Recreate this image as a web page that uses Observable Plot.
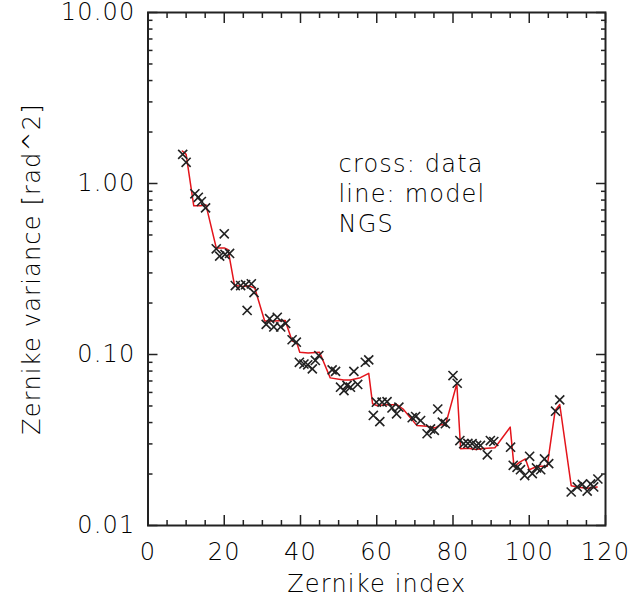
<!DOCTYPE html>
<html>
<head>
<meta charset="utf-8">
<script src="https://cdn.jsdelivr.net/npm/d3@7"></script>
<script src="https://cdn.jsdelivr.net/npm/@observablehq/plot@0.6"></script>
<style>
  html, body { margin: 0; padding: 0; background: #fff; }
</style>
</head>
<body>
<div id="chart"></div>
<script>
// Data crosses: Zernike index and measured variance [rad^2]
const dataIndex = [9.1, 10.0, 12.3, 13.2, 14.0, 15.1, 17.9, 18.8, 20.0, 20.2, 21.4,
  22.9, 24.3, 25.6, 26.0, 27.1, 27.8, 31.0, 31.9, 33.0, 33.9, 34.8, 36.1,
  37.8, 38.9, 39.7, 40.9, 41.9, 43.1, 43.9, 44.8, 48.3, 49.2, 50.5, 51.4, 52.2,
  53.1, 54.0, 55.0, 57.0, 57.9, 59.1, 59.9, 60.8, 61.4, 62.7, 64.0, 65.2, 65.8,
  69.3, 70.2, 71.5, 73.2, 74.1, 75.1, 76.0, 77.2, 78.0, 80.0, 81.1, 81.8, 82.8,
  83.9, 85.0, 86.2, 87.2, 89.0, 89.8, 90.7, 95.1, 95.8, 96.8, 97.7, 98.8, 100.1,
  100.8, 101.9, 103.0, 104.0, 105.1, 106.9, 108.0, 111.0, 112.6, 113.9, 115.2,
  116.1, 116.9, 118.0];
const dataVar = [1.48, 1.33, 0.87, 0.83, 0.785, 0.72, 0.415, 0.376, 0.508, 0.385, 0.39,
  0.253, 0.253, 0.256, 0.181, 0.259, 0.23, 0.15, 0.162, 0.145, 0.165, 0.145, 0.152,
  0.122, 0.118, 0.090, 0.088, 0.087, 0.0824, 0.0923, 0.0986, 0.0813, 0.0797, 0.0644, 0.0615, 0.066,
  0.0644, 0.0797, 0.0668, 0.0901, 0.093, 0.044, 0.0526, 0.0405, 0.0526, 0.053, 0.0487, 0.045, 0.0492,
  0.0427, 0.0434, 0.0411, 0.0344, 0.0367, 0.036, 0.048, 0.0402, 0.0394, 0.0753, 0.0679, 0.0314, 0.0301,
  0.0302, 0.0301, 0.0294, 0.0294, 0.0259, 0.0314, 0.031, 0.0287, 0.0225, 0.0219, 0.0212, 0.0196, 0.0254,
  0.0201, 0.0217, 0.0212, 0.0245, 0.023, 0.0466, 0.0543, 0.0157, 0.0168, 0.0174, 0.0159,
  0.0175, 0.0168, 0.0187];

// Model line vertices
const modelIndex = [9, 10, 12, 13.8, 15.2, 17.9, 20, 21, 22.7, 25, 26.5, 28, 30.6, 33, 36,
  37.8, 39, 39.8, 42, 45, 47.8, 51.3, 53.1, 55.7, 57.9, 58.9, 60, 62.7, 65.3, 66.9,
  70.5, 73.2, 75.3, 77, 78, 81, 82, 84, 86, 88, 91, 95, 96, 97.5, 99, 100, 102.1, 104.7,
  106.8, 108, 111, 113.4, 115.2, 117.8];
const modelVar = [1.55, 1.48, 0.74, 0.74, 0.75, 0.42, 0.42, 0.41, 0.253, 0.25, 0.252, 0.245,
  0.157, 0.157, 0.158, 0.120, 0.118, 0.103, 0.102, 0.103, 0.073, 0.071, 0.071, 0.0732, 0.0776,
  0.0515, 0.0503, 0.0509, 0.0509, 0.048, 0.0385, 0.038, 0.0372, 0.039, 0.0385, 0.0674,
  0.0281, 0.0283, 0.0278, 0.0282, 0.0285, 0.0376, 0.0221, 0.0235, 0.0245, 0.0212, 0.0222, 0.0222,
  0.0471, 0.051, 0.0171, 0.0167, 0.0165, 0.0168];

// Ticks
const xMajor = [0, 20, 40, 60, 80, 100, 120];
const xMinor = [5, 10, 15, 25, 30, 35, 45, 50, 55, 65, 70, 75, 85, 90, 95, 105, 110, 115];
const yMajor = [0.01, 0.1, 1, 10];
const yMinor = [0.02, 0.03, 0.04, 0.05, 0.06, 0.07, 0.08, 0.09,
  0.2, 0.3, 0.4, 0.5, 0.6, 0.7, 0.8, 0.9, 2, 3, 4, 5, 6, 7, 8, 9];
const yTickLabels = ["0.01", "0.10", "1.00", "10.00"];

const xTitle = "Zernike index";
const yTitle = "Zernike variance [rad^2]";
const noteLines = ["cross: data", "line: model", "NGS"];

const points = dataIndex.map((x, i) => ({x, v: dataVar[i]}));
const model = modelIndex.map((x, i) => ({x, v: modelVar[i]}));

const ink = "#222";
const textInk = "#000";
const common = {stroke: ink, strokeWidth: 1.5, label: null};

const chart = Plot.plot({
  width: 643,
  height: 606,
  marginLeft: 147.5,
  marginRight: 38,
  marginTop: 12,
  marginBottom: 81,
  x: {domain: [0, 120]},
  y: {type: "log", domain: [0.01, 10]},
  style: {fontFamily: "'DejaVu Sans', sans-serif", fontWeight: 300, fontSize: "24px", color: ink, background: "#fff", letterSpacing: "1.2px", overflow: "visible"},
  marks: [
    Plot.axisX(xMajor, {...common, anchor: "bottom", tickSize: -10, tickPadding: 27, tickFormat: (d) => String(d), fill: textInk}),
    Plot.axisX(xMinor, {...common, anchor: "bottom", tickSize: -5, fill: "none"}),
    Plot.axisX(xMajor, {...common, anchor: "top", tickSize: -10, fill: "none"}),
    Plot.axisX(xMinor, {...common, anchor: "top", tickSize: -5, fill: "none"}),
    Plot.axisY(yMajor, {...common, anchor: "left", tickSize: -10, tickPadding: 22.5,
      tickFormat: (d) => yTickLabels[yMajor.indexOf(d)], fill: textInk}),
    Plot.axisY(yMinor, {...common, anchor: "left", tickSize: -5, fill: "none"}),
    Plot.axisY(yMajor, {...common, anchor: "right", tickSize: -10, fill: "none"}),
    Plot.axisY(yMinor, {...common, anchor: "right", tickSize: -5, fill: "none"}),
    Plot.frame({stroke: ink, strokeWidth: 2}),
    Plot.line(model, {x: "x", y: "v", stroke: "#e4141b", strokeWidth: 1.5}),
    Plot.dot(points, {x: "x", y: "v", symbol: "times", r: 4.2, stroke: ink, strokeWidth: 1.6}),
    Plot.text([noteLines.join("\n")], {frameAnchor: "top-left", dx: 190.5, dy: 138, lineAnchor: "top",
      textAnchor: "start", lineHeight: 1.25, fill: textInk, fontSize: 24}),
    Plot.text([xTitle], {frameAnchor: "bottom", dy: 66, lineAnchor: "bottom", fill: textInk, fontSize: 24}),
    Plot.text([yTitle], {frameAnchor: "left", dx: -108.5, rotate: -90, textAnchor: "middle", lineAnchor: "bottom", fill: textInk, fontSize: 24})
  ]
});
document.getElementById("chart").appendChild(chart);
</script>
</body>
</html>
